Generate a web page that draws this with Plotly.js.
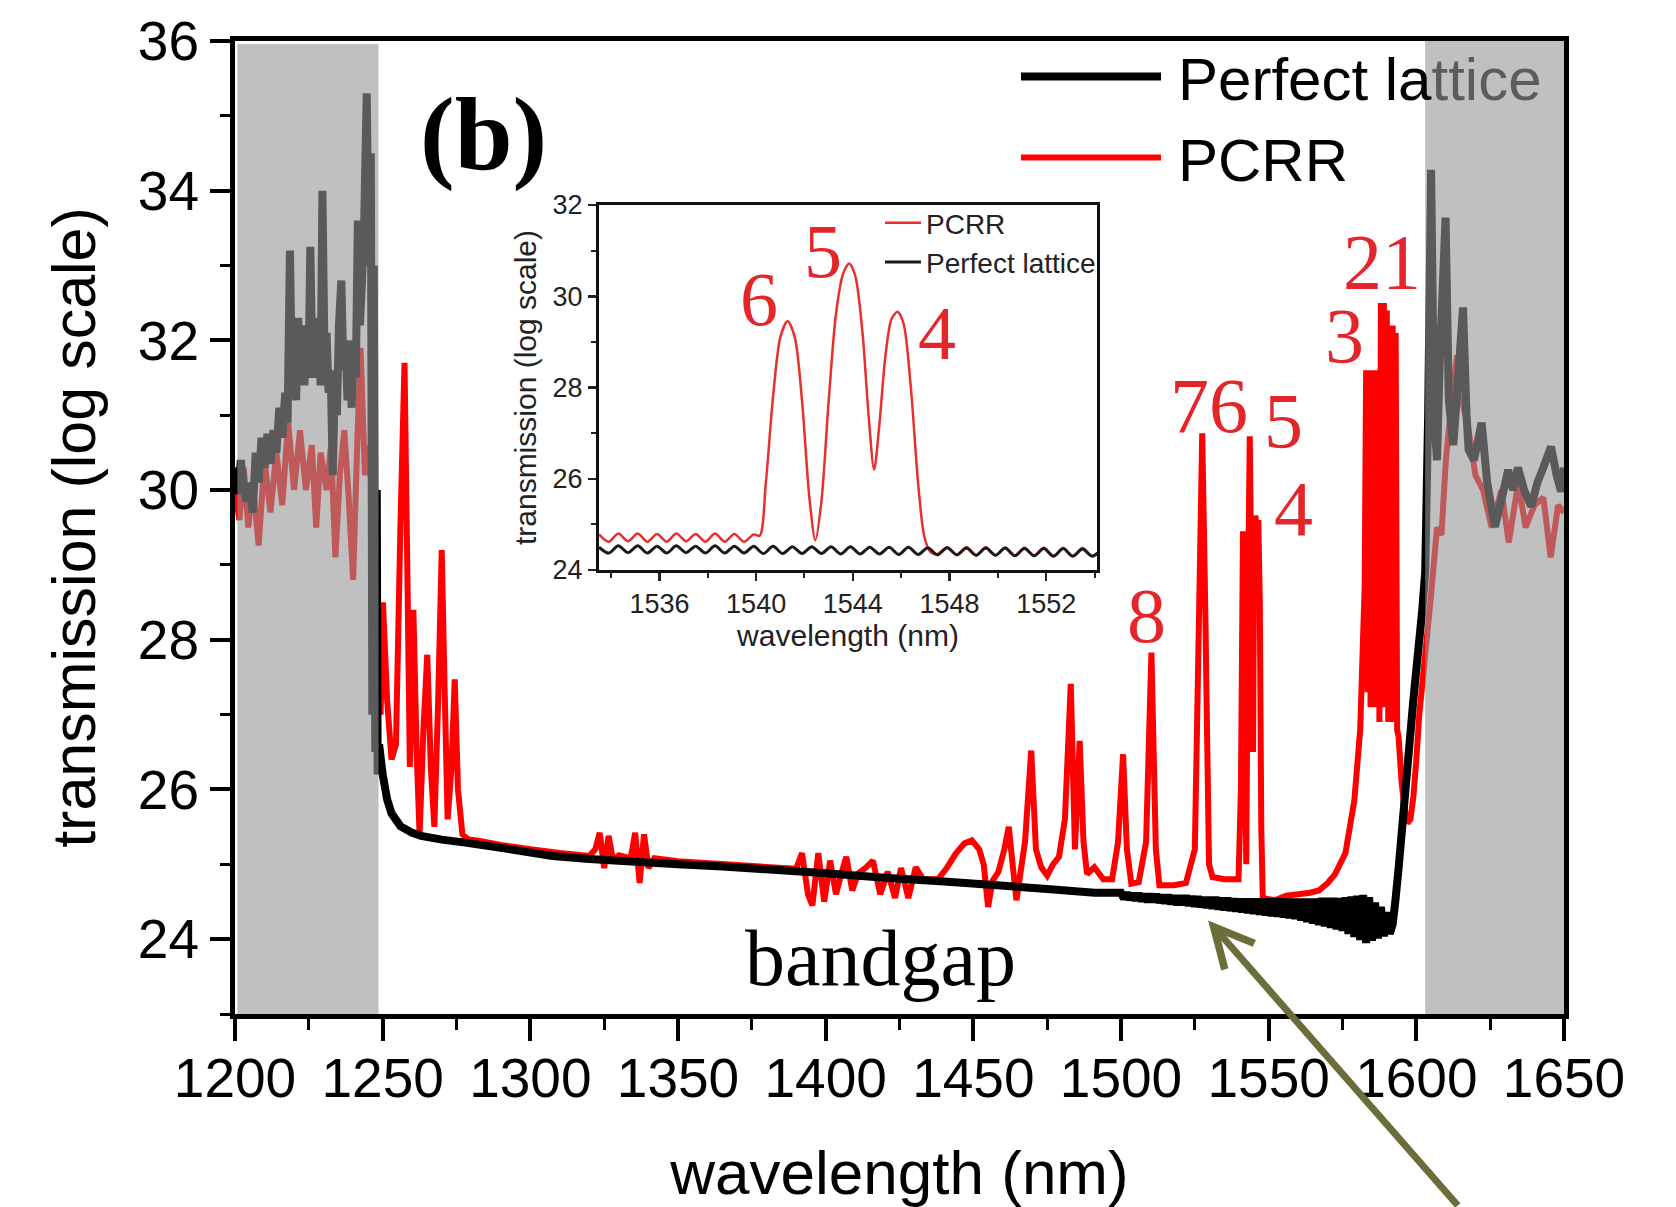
<!DOCTYPE html>
<html>
<head>
<meta charset="utf-8">
<script src="https://cdn.plot.ly/plotly-3.0.1.min.js"></script>
<style>html,body{margin:0;padding:0;background:#fff;}#chart{width:1676px;height:1207px;}</style>
</head>
<body>
<div id="chart"></div>
<script>
// ---------- MAIN PANEL : Perfect lattice (black) ----------
const latticeX1 = [1200,1201,1202,1203,1204,1205,1206,1207,1208,1209,1210,1211,1212,1213,1214,1215,1216,1217,1217.8,1218.6,1219.3,1220,1220.7,1221.4,1222.1,1222.8,1223.5,1224.2,1224.9,1225.5,1226.2,1226.9,1227.6,1228.3,1229,1229.6,1230.3,1231,1231.7,1232.4,1233.1,1233.8,1234.5,1235.2,1236,1236.7,1237.4,1238.1,1238.8,1239.5,1240.2,1240.9,1241.6,1242.3,1243,1243.7,1244.6,1245.3,1246,1246.5,1247,1247.5,1248,1248.3,1248.8];
const latticeY1 = [30.3,29.95,30.4,30.0,29.85,30.1,29.7,30.5,30.1,30.7,30.3,30.75,30.35,30.8,30.5,31.1,30.7,31.3,30.9,33.2,31.4,32.0,31.2,32.3,31.5,32.2,31.4,32.1,31.5,33.25,31.6,32.3,31.5,32.3,31.4,34.0,31.8,32.1,31.3,31.6,30.2,31.4,31.0,32.2,32.8,31.6,32.0,31.2,31.8,31.1,32.0,31.5,33.6,32.2,32.8,33.5,35.3,33.0,34.5,27.0,33.0,26.5,30.0,26.2,26.6];
const latticeX2 = [1250,1251.5,1253,1256,1260,1263,1270,1278,1290,1307.5,1320,1337,1350,1365,1381,1400,1420,1440,1458,1475,1491];
const latticeY2 = [26.2,25.87,25.68,25.51,25.42,25.38,25.33,25.29,25.22,25.11,25.07,25.03,25.0,24.97,24.93,24.88,24.82,24.77,24.72,24.67,24.62];
const latticeX3 = [1500,1501,1502,1503,1504,1505,1506,1507,1508,1509,1510,1511,1512,1513,1514,1515,1516,1517,1518,1519,1520,1521,1522,1523,1524,1525,1526,1527,1528,1529,1530,1531,1532,1533,1534,1535,1536,1537,1538,1539,1540,1541,1542,1543,1544,1545,1546,1547,1548,1549,1550,1551,1552,1553,1554,1555,1556,1557,1558,1559,1560,1561,1562,1563,1564,1565,1566,1567,1568,1569,1570,1571,1572,1573,1574,1575,1576,1577,1578,1579,1580,1581,1582,1583,1584,1585,1586,1587,1588,1589,1590,1591];
const latticeY3 = [24.62,24.54,24.62,24.53,24.61,24.52,24.61,24.51,24.60,24.50,24.60,24.50,24.60,24.49,24.59,24.48,24.59,24.47,24.58,24.46,24.58,24.46,24.58,24.45,24.57,24.44,24.57,24.43,24.56,24.42,24.56,24.41,24.56,24.40,24.55,24.39,24.55,24.38,24.54,24.37,24.54,24.36,24.54,24.35,24.54,24.34,24.54,24.33,24.54,24.32,24.54,24.31,24.54,24.30,24.54,24.29,24.54,24.28,24.54,24.27,24.54,24.25,24.54,24.23,24.54,24.21,24.54,24.19,24.55,24.17,24.55,24.15,24.55,24.13,24.55,24.11,24.56,24.07,24.57,24.03,24.58,23.99,24.59,23.95,24.56,23.98,24.49,24.01,24.43,24.04,24.36,24.07];
const latticeX4 = [1592,1593,1594,1595,1596,1597,1598,1599,1600,1601,1602,1603,1604,1605,1606,1607,1608,1609.9,1611,1612.5,1614,1615.8,1617,1617.7,1619.5,1622.1,1624,1626.6,1629,1631.1,1632.8,1634.4,1636.5,1638.9,1641,1643,1645.6,1647.5,1649,1650];
const latticeY4 = [24.2,24.55,24.95,25.4,25.85,26.3,26.75,27.2,27.6,28.0,28.4,28.9,31.0,34.28,31.0,30.4,31.8,33.64,31.2,30.6,31.4,32.44,31.0,30.54,30.4,30.9,30.1,29.51,29.9,30.27,30.0,30.3,30.0,29.78,30.1,30.3,30.58,30.2,29.98,30.3];

// ---------- MAIN PANEL : PCRR (red) ----------
const pcrrX1 = [1200,1201.5,1203,1204.5,1206,1208,1210,1212,1214,1216,1218,1220,1222,1224,1226,1227.5,1229,1231,1232.5,1234,1235.5,1237,1238.5,1240,1241.3,1242.5,1244,1245.5,1246.8,1248];
const pcrrY1 = [30.0,29.6,30.3,29.5,30.1,29.26,30.4,29.7,30.5,29.8,30.9,30.0,30.8,30.0,30.6,29.5,30.5,30.0,30.6,29.1,30.2,30.8,29.9,28.8,30.5,31.9,30.2,30.6,29.5,28.0];
const pcrrX2 = [1249.3,1250.1,1251.5,1253,1254.5,1256,1257.4,1258.5,1259.2,1260.4,1261.5,1262.5,1263.8,1265.1,1266.3,1267.5,1268.8,1270,1271,1272,1273.3,1274.4,1275.5,1277,1279,1282];
const pcrrY2 = [27.0,28.5,27.2,26.4,26.6,29.5,31.7,28.5,26.3,28.4,26.5,25.4,26.8,27.8,26.3,25.5,27.2,29.2,27.3,25.6,26.3,27.47,26.0,25.4,25.33,25.32];
const pcrrX3 = [1290,1300,1310,1320,1322,1323.5,1325,1326.5,1328,1330,1334,1335.5,1337,1338.5,1340,1342,1350,1370,1390,1392,1394,1395.5,1397.5,1399.5,1401.5,1403.5,1405.5,1407,1409,1411,1413.5,1416,1418.5,1421,1423.5,1425.5,1428,1430.5,1433,1438];
const pcrrY3 = [25.26,25.2,25.15,25.11,25.2,25.42,24.95,25.38,25.05,25.12,25.08,25.42,24.75,25.4,24.95,25.08,25.04,24.99,24.94,25.15,24.6,24.45,25.15,24.5,25.05,24.6,24.9,25.1,24.65,24.88,24.95,25.05,24.6,24.9,24.55,24.95,24.55,24.96,24.8,24.8];
const pcrrX4 = [1441,1444,1447,1449.5,1452,1453.5,1455,1456.5,1458.5,1460.5,1462,1463.3,1464.6,1466,1467.5,1469.6,1471.2,1473,1475,1477,1479,1481,1483,1484.4,1486,1487.3,1488.5,1491,1494,1497,1499,1500.7,1502,1503.5,1506,1508.5,1510.3,1511.8,1513,1518,1522,1525,1526.5,1527.5,1528.5,1529.8,1531];
const pcrrY4 = [24.95,25.14,25.28,25.32,25.2,25.0,24.43,24.78,24.9,25.2,25.5,25.0,24.52,24.9,25.3,26.52,25.2,24.96,24.85,25.0,25.1,25.6,27.41,25.2,26.65,25.3,24.87,24.96,24.8,24.8,25.3,26.47,25.2,24.74,24.76,25.3,27.83,25.2,24.72,24.72,24.75,25.2,28.5,30.76,28.5,25.0,24.83];
const pcrrX5 = [1535,1539.8,1540.6,1541.3,1541.9,1542.4,1543.0,1543.6,1544.2,1544.7,1545.1,1545.5,1546.0,1546.5,1547.0,1547.5,1548,1552,1556,1560,1564,1567,1570,1572.5,1576,1579,1581,1582.5,1583,1583.5,1584,1584.5,1585,1585.5,1586,1586.5,1587,1587.5,1588,1588.5,1589,1589.5,1590,1590.5,1591,1591.5,1592,1592.5,1593,1593.5,1594,1595,1596,1597,1598,1599,1600,1601,1603,1605,1607,1608.5,1610,1612,1613.8,1615.5,1617.7,1620,1622.6,1625.5,1628.8,1631.3,1634.5,1637,1640,1643,1645.5,1648,1650];
const pcrrY5 = [24.8,24.8,26.0,29.45,28.0,25.0,28.5,30.72,28.5,26.5,29.2,29.66,29.4,29.6,28.5,25.5,24.55,24.52,24.58,24.6,24.62,24.65,24.75,24.87,25.15,25.85,26.8,28.7,31.6,27.3,31.6,27.1,31.6,27.3,31.5,27.1,31.6,26.9,32.5,27.3,32.5,27.1,32.4,26.9,32.2,27.2,32.2,26.9,32.1,26.8,26.7,26.1,25.75,25.55,25.6,25.9,26.4,27.0,27.8,28.6,29.5,29.4,30.4,31.2,31.8,31.2,30.8,30.2,30.0,29.5,30.0,29.3,30.1,29.5,29.8,29.9,29.1,29.8,29.7];

// ---------- INSET ----------
const insetLatticeX = [1533.5,1533.9,1534.3,1534.7,1535.1,1535.5,1535.9,1536.3,1536.7,1537.1,1537.5,1537.9,1538.3,1538.7,1539.1,1539.5,1539.9,1540.3,1540.7,1541.1,1541.5,1541.9,1542.3,1542.7,1543.1,1543.5,1543.9,1544.3,1544.7,1545.1,1545.5,1545.9,1546.3,1546.7,1547.1,1547.5,1547.9,1548.3,1548.7,1549.1,1549.5,1549.9,1550.3,1550.7,1551.1,1551.5,1551.9,1552.3,1552.7,1553.1,1553.5,1553.9,1554.3];
const insetLatticeY = [24.50,24.37,24.53,24.38,24.53,24.37,24.52,24.37,24.53,24.38,24.52,24.37,24.53,24.37,24.52,24.37,24.52,24.36,24.52,24.36,24.51,24.36,24.51,24.36,24.51,24.35,24.51,24.35,24.50,24.35,24.50,24.34,24.50,24.34,24.49,24.33,24.49,24.33,24.48,24.32,24.48,24.32,24.48,24.31,24.47,24.31,24.47,24.30,24.47,24.30,24.46,24.30,24.45];
const insetPcrrX = [1533.5,1533.9,1534.3,1534.7,1535.1,1535.5,1535.9,1536.3,1536.7,1537.1,1537.5,1537.9,1538.3,1538.7,1539.1,1539.5,1539.9,1540.15,1540.4,1540.7,1541.0,1541.3,1541.6,1541.9,1542.2,1542.45,1542.7,1543.0,1543.3,1543.6,1543.85,1544.1,1544.4,1544.65,1544.88,1545.1,1545.35,1545.6,1545.85,1546.1,1546.4,1546.7,1546.95,1547.2,1547.5,1547.9,1548.3,1548.7,1549.1,1549.5,1549.9,1550.3,1550.7,1551.1,1551.5,1551.9,1552.3,1552.7,1553.1,1553.5,1553.9,1554.3];
const insetPcrrY = [24.78,24.62,24.80,24.63,24.80,24.62,24.79,24.62,24.80,24.63,24.79,24.62,24.80,24.62,24.79,24.62,24.78,24.75,25.9,27.8,29.1,29.45,29.1,27.7,25.6,24.65,25.5,27.7,29.6,30.5,30.72,30.45,29.2,27.4,26.2,27.2,28.7,29.5,29.66,29.4,28.0,25.9,24.75,24.4,24.35,24.50,24.34,24.50,24.33,24.50,24.33,24.49,24.32,24.49,24.32,24.49,24.31,24.48,24.31,24.48,24.31,24.47];

// ---------- labels ----------
const seriesNames = {lattice: 'Perfect lattice', pcrr: 'PCRR'};
const mainXTicks = [1200,1250,1300,1350,1400,1450,1500,1550,1600,1650];
const mainYTicks = [24,26,28,30,32,34,36];
const insetXTicks = [1536,1540,1544,1548,1552];
const insetYTicks = [24,26,28,30,32];
const peakLabels = ['8','76','5','4','3','21'];
const insetPeakLabels = ['6','5','4'];

const latticeX = latticeX1.concat(latticeX2, latticeX3, latticeX4);
const latticeY = latticeY1.concat(latticeY2, latticeY3, latticeY4);
const pcrrX = pcrrX1.concat(pcrrX2, pcrrX3, pcrrX4, pcrrX5);
const pcrrY = pcrrY1.concat(pcrrY2, pcrrY3, pcrrY4, pcrrY5);

const SANS = 'Liberation Sans, Arial, sans-serif';
const SERIF = 'Liberation Serif, Times New Roman, serif';
const LABEL_RED = '#e4262b';

const traces = [
  {x: pcrrX, y: pcrrY, xaxis: 'x', yaxis: 'y', type: 'scatter', mode: 'lines',
   name: '\u2009' + seriesNames.pcrr, legend: 'legend',
   line: {color: '#ff0000', width: 6, simplify: false}},
  {x: latticeX, y: latticeY, xaxis: 'x', yaxis: 'y', type: 'scatter', mode: 'lines',
   name: '\u2009Perfect la<span style="color:#5c5c5c">ttice</span>', legend: 'legend',
   line: {color: '#000000', width: 8, simplify: false}},
  {x: insetPcrrX, y: insetPcrrY, xaxis: 'x2', yaxis: 'y2', type: 'scatter', mode: 'lines',
   name: seriesNames.pcrr, legend: 'legend2',
   line: {color: '#e8302e', width: 2.5, shape: 'spline', smoothing: 0.8}},
  {x: insetLatticeX, y: insetLatticeY, xaxis: 'x2', yaxis: 'y2', type: 'scatter', mode: 'lines',
   name: seriesNames.lattice, legend: 'legend2',
   line: {color: '#1a1a1a', width: 3, shape: 'spline', smoothing: 0.8}}
];

// plot area: l=235, r=112, t=41, b=193  -> 1329 x 973 px
function px(X) { return (X - 235) / 1329; }
function py(Y) { return (1014 - Y) / 973; }

const mainLabelPos = [[1146,615],[1209,406],[1283,420],[1293,508],[1344,335],[1382,262]];
const insetLabelPos = [[759,299],[823,251],[937,333]];

const annotations = [
  {xref: 'paper', yref: 'paper', x: px(483), y: py(134), text: '(b)', showarrow: false,
   xanchor: 'center', yanchor: 'middle', font: {family: SERIF, size: 104, color: '#000', weight: 'bold'}},
  {xref: 'paper', yref: 'paper', x: px(880), y: py(958), text: 'bandgap', showarrow: false,
   xanchor: 'center', yanchor: 'middle', font: {family: SERIF, size: 80, color: '#000'}},
  {xref: 'x', yref: 'y', x: 1529.5, y: 24.25, ax: 251, ay: 290, text: '', showarrow: true,
   arrowhead: 5, arrowsize: 1.1, arrowwidth: 7, arrowcolor: '#6b6e3a', standoff: 0}
];
peakLabels.forEach((t, i) => annotations.push({
  xref: 'paper', yref: 'paper', x: px(mainLabelPos[i][0]), y: py(mainLabelPos[i][1]),
  text: t, showarrow: false, xanchor: 'center', yanchor: 'middle',
  font: {family: SERIF, size: 78, color: LABEL_RED}}));
insetPeakLabels.forEach((t, i) => annotations.push({
  xref: 'paper', yref: 'paper', x: px(insetLabelPos[i][0]), y: py(insetLabelPos[i][1]),
  text: t, showarrow: false, xanchor: 'center', yanchor: 'middle',
  font: {family: SERIF, size: 76, color: LABEL_RED}}));

const layout = {
  width: 1676, height: 1207,
  margin: {l: 235, r: 112, t: 41, b: 193, autoexpand: false},
  paper_bgcolor: '#ffffff', plot_bgcolor: '#ffffff',
  font: {family: SANS, color: '#000'},
  showlegend: true, hovermode: false,
  xaxis: {
    domain: [0, 1], anchor: 'y', range: [1200, 1650],
    tickmode: 'array', tickvals: mainXTicks, ticktext: mainXTicks.map(String),
    ticks: 'outside', ticklen: 22, tickwidth: 4, tickcolor: '#000',
    ticklabelstandoff: -10,
    minor: {ticks: 'outside', ticklen: 11, tickwidth: 3, tickcolor: '#000', dtick: 25, tick0: 1200, showgrid: false},
    showline: true, linewidth: 5, linecolor: '#000', mirror: true,
    showgrid: false, zeroline: false,
    tickfont: {size: 55, color: '#000'},
    title: {text: 'wavelength (nm)', font: {size: 62, color: '#000'}, standoff: 48}
  },
  yaxis: {
    domain: [0, 1], anchor: 'x', range: [23, 36],
    tickmode: 'array', tickvals: mainYTicks, ticktext: mainYTicks.map(String),
    ticks: 'outside', ticklen: 20, tickwidth: 4, tickcolor: '#000',
    minor: {ticks: 'outside', ticklen: 10, tickwidth: 3, tickcolor: '#000', dtick: 1, tick0: 23, showgrid: false},
    showline: true, linewidth: 5, linecolor: '#000', mirror: true,
    showgrid: false, zeroline: false,
    tickfont: {size: 55, color: '#000'},
    title: {text: 'transmission (log scale)', font: {size: 61, color: '#000'}, standoff: 24}
  },
  xaxis2: {
    domain: [px(599), px(1097)], anchor: 'y2', range: [1533.5, 1554.1],
    tickmode: 'array', tickvals: insetXTicks, ticktext: insetXTicks.map(String),
    ticks: 'outside', ticklen: 8, tickwidth: 2.5, tickcolor: '#222',
    minor: {ticks: 'outside', ticklen: 5, tickwidth: 2, tickcolor: '#222', dtick: 2, tick0: 1534, showgrid: false},
    showline: true, linewidth: 3, linecolor: '#111', mirror: true,
    showgrid: false, zeroline: false,
    tickfont: {size: 27, color: '#222'},
    title: {text: 'wavelength (nm)', font: {size: 30, color: '#222'}, standoff: 6}
  },
  yaxis2: {
    domain: [py(570), py(205)], anchor: 'x2', range: [24, 32],
    tickmode: 'array', tickvals: insetYTicks, ticktext: insetYTicks.map(String),
    ticks: 'outside', ticklen: 8, tickwidth: 2.5, tickcolor: '#222',
    minor: {ticks: 'outside', ticklen: 5, tickwidth: 2, tickcolor: '#222', dtick: 1, tick0: 24, showgrid: false},
    showline: true, linewidth: 3, linecolor: '#111', mirror: true,
    showgrid: false, zeroline: false,
    tickfont: {size: 27, color: '#222'},
    title: {text: 'transmission (log scale)', font: {size: 30, color: '#222'}, standoff: 8}
  },
  legend: {
    x: px(1016), y: py(31), xanchor: 'left', yanchor: 'top',
    bgcolor: 'rgba(0,0,0,0)', borderwidth: 0, traceorder: 'reversed',
    itemwidth: 140, tracegroupgap: 0,
    font: {size: 60, color: '#000', family: SANS}
  },
  legend2: {
    x: px(880), y: py(198), xanchor: 'left', yanchor: 'top',
    bgcolor: 'rgba(0,0,0,0)', borderwidth: 0, traceorder: 'normal',
    itemwidth: 36, tracegroupgap: 0,
    font: {size: 28, color: '#222', family: SANS}
  },
  shapes: [
    {type: 'rect', xref: 'x', yref: 'y', x0: 1200.8, x1: 1248.6, y0: 23, y1: 35.96, layer: 'above',
     fillcolor: 'rgba(150,150,150,0.6)', line: {width: 0}},
    {type: 'rect', xref: 'x', yref: 'y', x0: 1603, x1: 1650, y0: 23, y1: 36, layer: 'above',
     fillcolor: 'rgba(150,150,150,0.6)', line: {width: 0}}
  ],
  annotations: annotations
};

Plotly.newPlot('chart', traces, layout, {staticPlot: true, displayModeBar: false});
</script>
</body>
</html>
